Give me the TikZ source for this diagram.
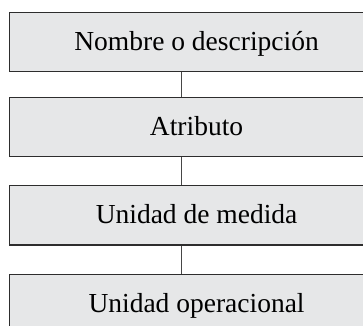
\documentclass[tikz,border=0pt]{standalone}
\usepackage{fontspec}
\setmainfont{Liberation Serif}
\usetikzlibrary{positioning}
\definecolor{boxfill}{RGB}{230,231,232}
\definecolor{boxline}{RGB}{45,45,45}
\definecolor{linkline}{RGB}{70,70,70}

\begin{document}
\begin{tikzpicture}[x=1pt,y=-1pt,
    node distance = 26.8pt]
    \tikzstyle{campo}=[draw=boxline,fill=boxfill,line width=1.1pt,
      minimum width=374pt,minimum height=59.5pt,inner sep=0pt,
      text height=16pt,text depth=0pt,
      font=\fontsize{27.5}{33}\selectfont]
    \tikzstyle{enlace}=[draw=linkline,line width=1.4pt]
    \clip (0,0) rectangle (363,325);
    \node[campo,anchor=north west] (nombre) at (9,11.7) {Nombre o descripción};
    \node[campo] (atributo) [below=24.5pt of nombre] {Atributo};
    \node[campo] (unidad) [below=27.5pt of atributo] {Unidad de medida};
    \node[campo] (operacional) [below=28.5pt of unidad] {Unidad operacional};
    \path[enlace]
    ([xshift=-15pt]nombre.south) edge ([xshift=-15pt]atributo.north)
    ([xshift=-15pt]atributo.south) edge ([xshift=-15pt]unidad.north)
    ([xshift=-15pt]unidad.south) edge ([xshift=-15pt]operacional.north) ;
  \end{tikzpicture}
\end{document}
